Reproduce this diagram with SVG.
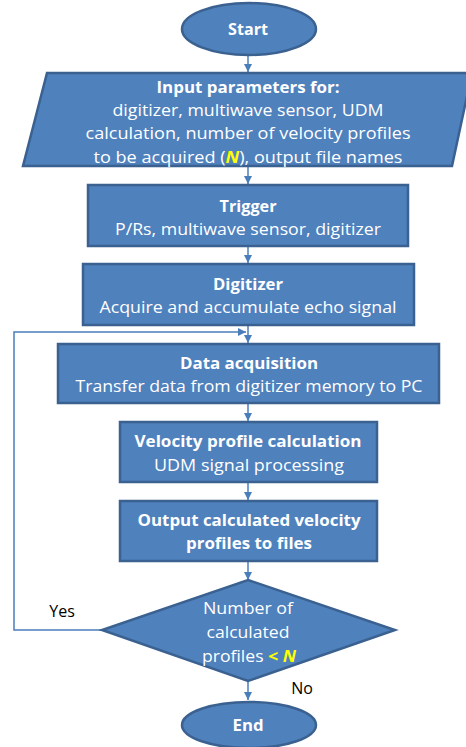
<svg xmlns="http://www.w3.org/2000/svg" width="466" height="747" viewBox="0 0 466 747">
<style>
.n{fill:#4f81bd;stroke:#3a6190;stroke-width:2.5}
.t{font-family:"Open Sans","Liberation Sans",sans-serif;font-size:16px;fill:#ffffff;text-anchor:middle}
.b{font-weight:bold}
.y{fill:#ffff00;font-weight:bold;font-style:italic}
.c{fill:none;stroke:#4a7ebb;stroke-width:1.5}
.l{font-family:"Open Sans","Liberation Sans",sans-serif;font-size:16px;fill:#000000;text-anchor:middle}
</style>
<defs>
<marker id="a" markerUnits="userSpaceOnUse" markerWidth="9" markerHeight="9" refX="8" refY="4" orient="auto">
<path d="M0,0 L8,4 L0,8 z" fill="#4a7ebb"/>
</marker>
</defs>
<rect width="466" height="747" fill="#ffffff"/>
<g id="connectors">
<line class="c" x1="248" y1="55" x2="248" y2="72" marker-end="url(#a)"/>
<line class="c" x1="248" y1="167" x2="248" y2="184" marker-end="url(#a)"/>
<line class="c" x1="248" y1="246" x2="248" y2="263" marker-end="url(#a)"/>
<line class="c" x1="248" y1="325" x2="248" y2="343" marker-end="url(#a)"/>
<line class="c" x1="248" y1="403" x2="248" y2="421" marker-end="url(#a)"/>
<line class="c" x1="248" y1="482" x2="248" y2="500" marker-end="url(#a)"/>
<line class="c" x1="248" y1="561" x2="248" y2="580" marker-end="url(#a)"/>
<line class="c" x1="248" y1="681" x2="248" y2="700" marker-end="url(#a)"/>
<polyline class="c" points="102,630 14,630 14,332 246,332" marker-end="url(#a)"/>
</g>
<g id="start">
<ellipse class="n" cx="249" cy="29" rx="67" ry="26"/>
<text class="t b" x="248" y="35" textLength="40" lengthAdjust="spacingAndGlyphs">Start</text>
</g>
<g id="input">
<polygon class="n" points="47,73 472,73 452,166 23,166"/>
<text class="t b" x="248" y="93" textLength="183" lengthAdjust="spacingAndGlyphs">Input parameters for:</text>
<text class="t" x="248" y="116" textLength="271" lengthAdjust="spacingAndGlyphs">digitizer, multiwave sensor, UDM</text>
<text class="t" x="248" y="139" textLength="325" lengthAdjust="spacingAndGlyphs">calculation, number of velocity profiles</text>
<text class="t" x="248" y="163" textLength="309" lengthAdjust="spacingAndGlyphs">to be acquired (<tspan class="y">N</tspan>), output file names</text>
</g>
<g id="trigger">
<rect class="n" x="88" y="185" width="320" height="61"/>
<text class="t b" x="248" y="212" textLength="57" lengthAdjust="spacingAndGlyphs">Trigger</text>
<text class="t" x="248" y="235" textLength="266" lengthAdjust="spacingAndGlyphs">P/Rs, multiwave sensor, digitizer</text>
</g>
<g id="digitizer">
<rect class="n" x="83" y="264" width="331" height="61"/>
<text class="t b" x="248" y="290" textLength="70" lengthAdjust="spacingAndGlyphs">Digitizer</text>
<text class="t" x="248" y="313" textLength="297" lengthAdjust="spacingAndGlyphs">Acquire and accumulate echo signal</text>
</g>
<g id="acquisition">
<rect class="n" x="58" y="344" width="381" height="59"/>
<text class="t b" x="249" y="369" textLength="138" lengthAdjust="spacingAndGlyphs">Data acquisition</text>
<text class="t" x="249" y="392" textLength="347" lengthAdjust="spacingAndGlyphs">Transfer data from digitizer memory to PC</text>
</g>
<g id="velocity">
<rect class="n" x="120" y="422" width="257" height="60"/>
<text class="t b" x="248" y="447" textLength="227" lengthAdjust="spacingAndGlyphs">Velocity profile calculation</text>
<text class="t" x="249" y="471" textLength="190" lengthAdjust="spacingAndGlyphs">UDM signal processing</text>
</g>
<g id="output">
<rect class="n" x="120" y="501" width="257" height="60"/>
<text class="t b" x="249" y="526" textLength="223" lengthAdjust="spacingAndGlyphs">Output calculated velocity</text>
<text class="t b" x="249" y="549" textLength="126" lengthAdjust="spacingAndGlyphs">profiles to files</text>
</g>
<g id="decision">
<polygon class="n" points="248,580 395,630 248,681 102,630"/>
<text class="t" x="248" y="614" textLength="90" lengthAdjust="spacingAndGlyphs">Number of</text>
<text class="t" x="248" y="638" textLength="83" lengthAdjust="spacingAndGlyphs">calculated</text>
<text class="t" x="249" y="662" textLength="94" lengthAdjust="spacingAndGlyphs">profiles <tspan class="y" font-style="normal">&lt;</tspan> <tspan class="y">N</tspan></text>
</g>
<g id="labels">
<text class="l" x="62" y="617">Yes</text>
<text class="l" x="302" y="694">No</text>
</g>
<g id="end">
<ellipse class="n" cx="249" cy="725" rx="67" ry="23"/>
<text class="t b" x="248" y="731" textLength="31" lengthAdjust="spacingAndGlyphs">End</text>
</g>
</svg>
